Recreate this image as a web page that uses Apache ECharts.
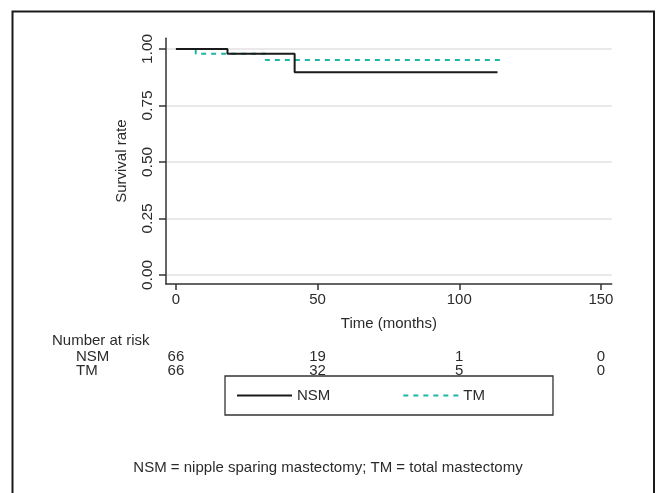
<!DOCTYPE html>
<html>
<head>
<meta charset="utf-8">
<script src="https://cdn.jsdelivr.net/npm/echarts@6/dist/echarts.min.js"></script>
<style>
html,body{margin:0;padding:0;background:#fff;}
#chart{width:656px;height:493px;}
</style>
</head>
<body>
<div id="chart"></div>
<script>
// ---- data ----
const timeTicks = [0, 50, 100, 150];
const survTicks = [0, 0.25, 0.5, 0.75, 1];
const nsmTimes = [0, 18.2, 41.9, 113.5];
const nsmSurv  = [1.0, 0.979, 0.897, 0.897];
const tmTimes  = [0, 7.0, 31.7, 114.6];
const tmSurv   = [1.0, 0.979, 0.951, 0.951];
const riskTimes = [0, 50, 100, 150];
const riskGroups = ['NSM', 'TM'];
const riskNSM = [66, 19, 1, 0];
const riskTM  = [66, 32, 5, 0];
const caption = 'NSM = nipple sparing mastectomy; TM = total mastectomy';

const FONT = 'Liberation Sans';
const TXT = '#2b2b2b';

const chart = echarts.init(document.getElementById('chart'), null, {renderer: 'canvas'});

const riskData = [];
riskTimes.forEach((t, i) => {
  riskData.push([t, 'NSM', riskNSM[i]]);
  riskData.push([t, 'TM', riskTM[i]]);
});

const option = {
  backgroundColor: '#fff',
  animation: false,
  textStyle: {fontFamily: FONT},
  grid: [
    {left: 166, right: 44.3, top: 38.3, bottom: 209, containLabel: false},
    {left: 166, right: 44.3, top: 350, height: 28, containLabel: false}
  ],
  xAxis: [
    {
      type: 'value', gridIndex: 0, min: -3.5, max: 153.8,
      axisLine: {show: true, onZero: false, lineStyle: {color: '#333', width: 1.5}},
      axisTick: {show: true, customValues: timeTicks, length: 6, lineStyle: {color: '#333', width: 1.5}},
      axisLabel: {customValues: timeTicks, margin: 8, fontSize: 15, color: TXT, fontFamily: FONT},
      splitLine: {show: false},
      name: 'Time (months)', nameLocation: 'middle', nameGap: 32,
      nameTextStyle: {fontSize: 15, color: TXT, fontFamily: FONT}
    },
    {
      type: 'value', gridIndex: 1, min: -3.5, max: 153.8,
      axisLine: {show: false}, axisTick: {show: false}, axisLabel: {show: false}, splitLine: {show: false}
    }
  ],
  yAxis: [
    {
      type: 'value', gridIndex: 0, min: -0.04, max: 1.047,
      axisLine: {show: true, onZero: false, lineStyle: {color: '#333', width: 1.5}},
      axisTick: {show: true, customValues: survTicks, length: 7, lineStyle: {color: '#333', width: 1.5}},
      axisLabel: {customValues: survTicks, rotate: 90, margin: 10, fontSize: 15.5, color: TXT, fontFamily: FONT,
                  formatter: v => v.toFixed(2)},
      splitLine: {show: true, lineStyle: {color: '#e2e2e2', width: 1.5}},
      name: 'Survival rate', nameLocation: 'middle', nameGap: 37,
      nameTextStyle: {fontSize: 15, color: TXT, fontFamily: FONT}
    },
    {
      type: 'category', gridIndex: 1, data: riskGroups, inverse: true,
      axisLine: {show: false}, axisTick: {show: false}, splitLine: {show: false},
      axisLabel: {interval: 0, hideOverlap: false, align: 'left', margin: 90, fontSize: 15, color: TXT, fontFamily: FONT}
    }
  ],
  legend: {
    data: ['NSM', 'TM'], left: 225, top: 376, orient: 'horizontal',
    itemWidth: 55, itemHeight: 14, itemGap: 72,
    itemStyle: {opacity: 0},
    borderColor: '#333', borderWidth: 1.3, borderRadius: 0,
    padding: [12, 68, 12, 11],
    textStyle: {fontSize: 15, color: TXT, fontFamily: FONT}
  },
  series: [
    {
      name: 'NSM', type: 'line', xAxisIndex: 0, yAxisIndex: 0, step: 'end', symbol: 'none',
      data: nsmTimes.map((t, i) => [t, nsmSurv[i]]),
      lineStyle: {color: '#1a1a1a', width: 2}, itemStyle: {color: '#1a1a1a'}, z: 3
    },
    {
      name: 'TM', type: 'line', xAxisIndex: 0, yAxisIndex: 0, step: 'end', symbol: 'none',
      data: tmTimes.map((t, i) => [t, tmSurv[i]]),
      lineStyle: {color: '#1cb5a6', width: 2, type: [5, 5]}, itemStyle: {color: '#1cb5a6'}, z: 2
    },
    {
      name: 'risk', type: 'scatter', xAxisIndex: 1, yAxisIndex: 1, symbolSize: 0,
      itemStyle: {color: '#ffffff', opacity: 1}, silent: true,
      data: riskData,
      label: {show: true, position: 'inside', formatter: p => String(p.value[2]),
              fontSize: 15, color: TXT, opacity: 1, textBorderWidth: 0, fontFamily: FONT}
    }
  ],
  graphic: [
    {type: 'rect', shape: {x: 12.5, y: 11.5, width: 641.5, height: 490}, style: {fill: 'none', stroke: '#1a1a1a', lineWidth: 2}, silent: true},
    {type: 'text', left: 52, top: 333, style: {text: 'Number at risk', fontSize: 15, fill: TXT, fontFamily: FONT}},
    {type: 'text', left: 'center', top: 460, style: {text: caption, fontSize: 15, fill: TXT, fontFamily: FONT, align: 'center'}}
  ]
};
chart.setOption(option);
</script>
</body>
</html>
